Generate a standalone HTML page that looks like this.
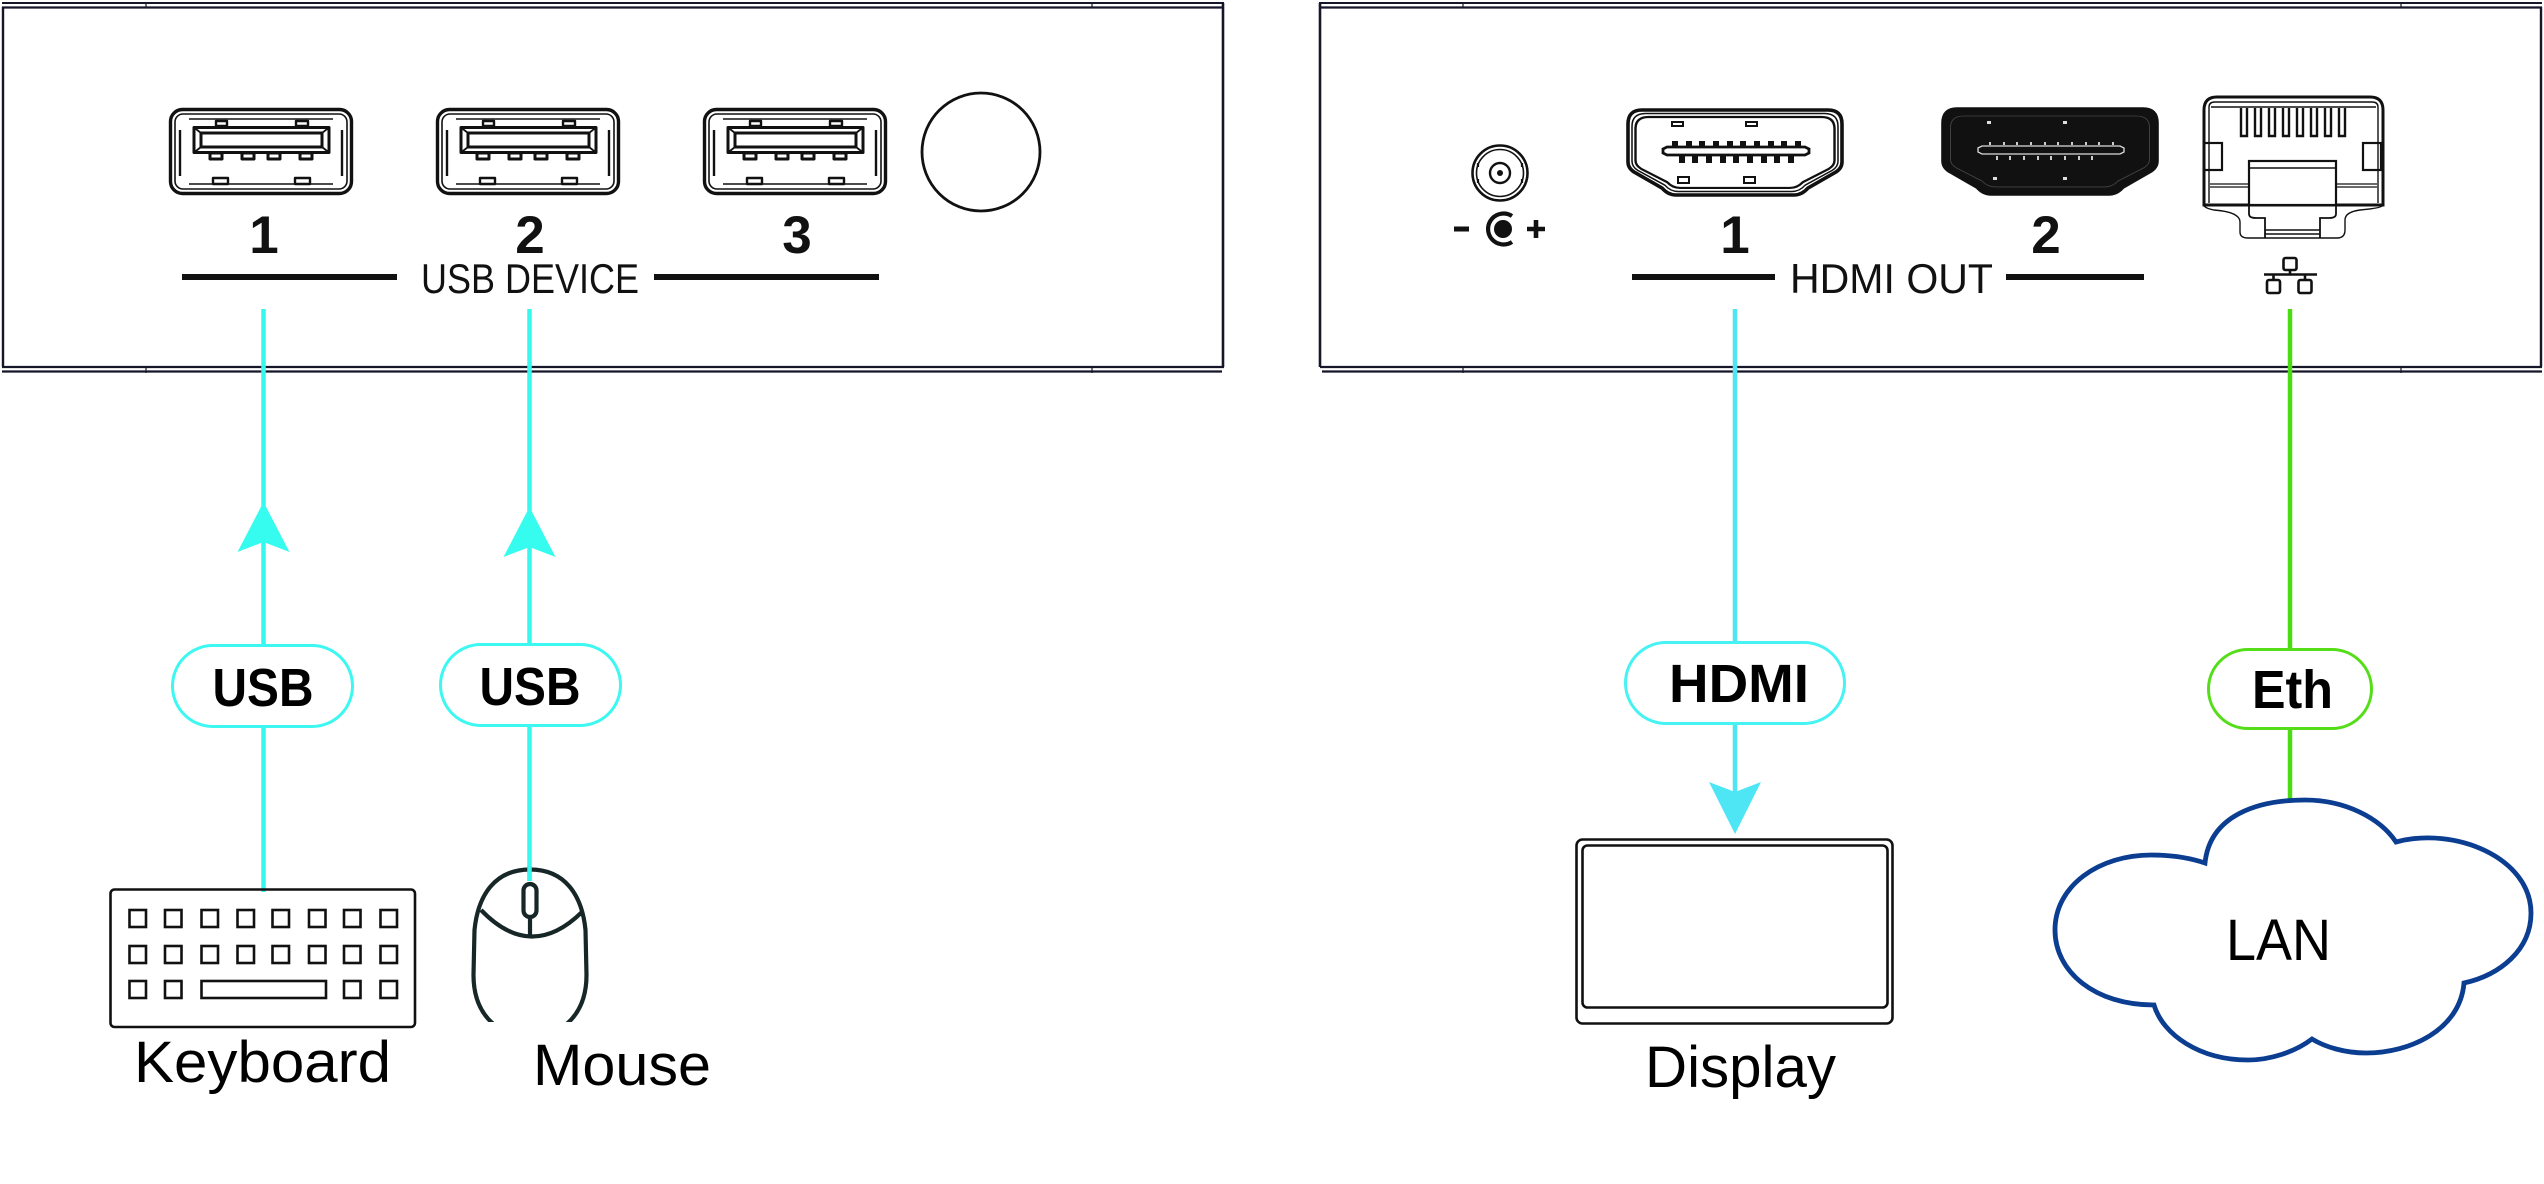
<!DOCTYPE html>
<html>
<head>
<meta charset="utf-8">
<style>
  html,body{margin:0;padding:0;background:#fff;}
  svg{display:block;}
  text{font-family:"Liberation Sans",sans-serif;}
</style>
</head>
<body>
<svg width="2544" height="1184" viewBox="0 0 2544 1184" xmlns="http://www.w3.org/2000/svg">
  <defs>
    <g id="usbport" fill="none" stroke="#111" stroke-linejoin="round">
      <rect x="1.5" y="1.5" width="181" height="84" rx="12" fill="#fff" stroke-width="3.4"/>
      <rect x="6" y="6" width="172" height="75" rx="8" stroke-width="1.6"/>
      <line x1="20" y1="11" x2="164" y2="11" stroke-width="1.6"/>
      <line x1="20" y1="76" x2="164" y2="76" stroke-width="1.6"/>
      <line x1="11" y1="22" x2="11" y2="68" stroke-width="2.4"/>
      <line x1="173" y1="22" x2="173" y2="68" stroke-width="2.4"/>
      <rect x="25" y="19.5" width="135" height="25" stroke-width="3"/>
      <rect x="32" y="25" width="121" height="14" stroke-width="3"/>
      <line x1="25" y1="19.5" x2="32" y2="25" stroke-width="1.8"/>
      <line x1="160" y1="19.5" x2="153" y2="25" stroke-width="1.8"/>
      <line x1="25" y1="44.5" x2="32" y2="39" stroke-width="1.8"/>
      <line x1="160" y1="44.5" x2="153" y2="39" stroke-width="1.8"/>
      <rect x="41" y="45" width="12" height="6" stroke-width="3"/>
      <rect x="73" y="45" width="12" height="6" stroke-width="3"/>
      <rect x="99" y="45" width="12" height="6" stroke-width="3"/>
      <rect x="131" y="45" width="12" height="6" stroke-width="3"/>
      <rect x="47" y="13" width="11" height="5" stroke-width="2.4"/>
      <rect x="127" y="13" width="12" height="5" stroke-width="2.4"/>
      <rect x="44" y="70" width="15" height="6" stroke-width="2.4"/>
      <rect x="126" y="70" width="15" height="6" stroke-width="2.4"/>
    </g>
    <path id="hdmishape" d="M14,0 H200 Q214,0 214,14 V52 Q214,58 208,62 L180,78 Q174,85 166,85 H48 Q40,85 34,78 L6,62 Q0,58 0,52 V14 Q0,0 14,0 Z"/>
  </defs>

  <!-- ============ LEFT PANEL ============ -->
  <g stroke="#16162a" fill="none">
    <line x1="2" y1="3" x2="1224" y2="3" stroke-width="2"/>
    <line x1="2" y1="7.5" x2="1224" y2="7.5" stroke-width="2.2"/>
    <line x1="3" y1="7" x2="3" y2="367" stroke-width="2.4"/>
    <line x1="1223" y1="3" x2="1223" y2="367" stroke-width="2.6"/>
    <line x1="2" y1="367" x2="1224" y2="367" stroke-width="2.2"/>
    <line x1="2" y1="371.5" x2="1222" y2="371.5" stroke-width="2.2"/>
    <line x1="146" y1="2" x2="146" y2="8" stroke-width="1.2"/>
    <line x1="1092" y1="2" x2="1092" y2="8" stroke-width="1.2"/>
    <line x1="146" y1="366" x2="146" y2="373" stroke-width="1.2"/>
    <line x1="1092" y1="366" x2="1092" y2="373" stroke-width="1.2"/>
  </g>

  <use href="#usbport" x="169" y="108"/>
  <use href="#usbport" x="436" y="108"/>
  <use href="#usbport" x="703" y="108"/>
  <circle cx="981" cy="152" r="59" fill="none" stroke="#111" stroke-width="2.8"/>

  <g fill="#111" font-weight="bold" font-size="53" text-anchor="middle">
    <text x="264" y="253">1</text>
    <text x="530" y="253">2</text>
    <text x="797" y="253">3</text>
  </g>
  <rect x="182" y="274" width="215" height="6" fill="#111"/>
  <rect x="654" y="274" width="225" height="6" fill="#111"/>
  <text x="421" y="293" font-size="42" fill="#111" textLength="218" lengthAdjust="spacingAndGlyphs">USB DEVICE</text>

  <!-- ============ RIGHT PANEL ============ -->
  <g stroke="#16162a" fill="none">
    <line x1="1319" y1="3" x2="2542" y2="3" stroke-width="2"/>
    <line x1="1319" y1="7.5" x2="2542" y2="7.5" stroke-width="2.2"/>
    <line x1="1320" y1="3" x2="1320" y2="367" stroke-width="2.6"/>
    <line x1="2541" y1="7" x2="2541" y2="367" stroke-width="2.4"/>
    <line x1="1320" y1="367" x2="2542" y2="367" stroke-width="2.2"/>
    <line x1="1322" y1="371.5" x2="2542" y2="371.5" stroke-width="2.2"/>
    <line x1="1463" y1="2" x2="1463" y2="8" stroke-width="1.2"/>
    <line x1="2401" y1="2" x2="2401" y2="8" stroke-width="1.2"/>
    <line x1="1463" y1="366" x2="1463" y2="373" stroke-width="1.2"/>
    <line x1="2401" y1="366" x2="2401" y2="373" stroke-width="1.2"/>
  </g>

  <!-- power jack -->
  <g fill="none" stroke="#111">
    <circle cx="1500" cy="173" r="27.5" stroke-width="2.6"/>
    <circle cx="1500" cy="173" r="23.5" stroke-width="1.6"/>
    <circle cx="1500" cy="173" r="10" stroke-width="2.4"/>
    <circle cx="1500" cy="173" r="3" fill="#111" stroke="none"/>
    <path d="M1478,163 v4 M1478,179 v4 M1522,163 v4 M1522,179 v4" stroke-width="2.2"/>
    <line x1="1454" y1="229" x2="1469" y2="229" stroke-width="5"/>
    <path d="M1512,216 A15.5,15.5 0 1 0 1512,242" stroke-width="4.2"/>
    <circle cx="1503" cy="229" r="9" fill="#111" stroke="none"/>
    <line x1="1527" y1="229" x2="1545" y2="229" stroke-width="4.6"/>
    <line x1="1536" y1="220" x2="1536" y2="238" stroke-width="4.6"/>
  </g>

  <!-- HDMI 1 -->
  <g transform="translate(1628,110)" fill="none" stroke="#111">
    <use href="#hdmishape" fill="#fff" stroke-width="3.6"/>
    <use href="#hdmishape" transform="translate(4,3.5) scale(0.9626,0.9176)" stroke-width="1.6"/>
    <use href="#hdmishape" transform="translate(7.5,7) scale(0.93,0.835)" stroke-width="2.6"/>
    <path d="M35,39 L39,37 H177 L181,39 V43 L177,45 H39 L35,43 Z" stroke-width="2.8"/>
    <g fill="#111" stroke="none">
      <rect x="44" y="31" width="6" height="6"/><rect x="58" y="31" width="6" height="6"/>
      <rect x="71" y="31" width="6" height="6"/><rect x="85" y="31" width="6" height="6"/>
      <rect x="99" y="31" width="6" height="6"/><rect x="112" y="31" width="6" height="6"/>
      <rect x="126" y="31" width="6" height="6"/><rect x="140" y="31" width="6" height="6"/>
      <rect x="153" y="31" width="6" height="6"/><rect x="167" y="31" width="6" height="6"/>
      <rect x="51" y="45" width="6" height="8"/><rect x="64" y="45" width="6" height="8"/>
      <rect x="78" y="45" width="6" height="8"/><rect x="92" y="45" width="6" height="8"/>
      <rect x="105" y="45" width="6" height="8"/><rect x="119" y="45" width="6" height="8"/>
      <rect x="133" y="45" width="6" height="8"/><rect x="146" y="45" width="6" height="8"/>
      <rect x="160" y="45" width="6" height="8"/>
    </g>
    <rect x="44" y="12" width="11" height="4" stroke-width="2"/>
    <rect x="118" y="12" width="11" height="4" stroke-width="2"/>
    <rect x="50" y="67" width="11" height="6" stroke-width="2"/>
    <rect x="116" y="67" width="11" height="6" stroke-width="2"/>
  </g>

  <!-- HDMI 2 (filled) -->
  <g transform="translate(1943,109)">
    <use href="#hdmishape" fill="#111" stroke="#111" stroke-width="3.6"/>
    <use href="#hdmishape" transform="translate(7.5,7) scale(0.93,0.835)" fill="none" stroke="#444" stroke-width="1"/>
    <path d="M35,39 L39,37 H177 L181,39 V43 L177,45 H39 L35,43 Z" fill="#111" stroke="#ddd" stroke-width="1.3"/>
    <g fill="#ccc">
      <rect x="46" y="33" width="2" height="3"/><rect x="60" y="33" width="2" height="3"/>
      <rect x="73" y="33" width="2" height="3"/><rect x="87" y="33" width="2" height="3"/>
      <rect x="101" y="33" width="2" height="3"/><rect x="114" y="33" width="2" height="3"/>
      <rect x="128" y="33" width="2" height="3"/><rect x="142" y="33" width="2" height="3"/>
      <rect x="155" y="33" width="2" height="3"/><rect x="169" y="33" width="2" height="3"/>
      <rect x="53" y="47" width="2" height="4"/><rect x="66" y="47" width="2" height="4"/>
      <rect x="80" y="47" width="2" height="4"/><rect x="94" y="47" width="2" height="4"/>
      <rect x="107" y="47" width="2" height="4"/><rect x="121" y="47" width="2" height="4"/>
      <rect x="135" y="47" width="2" height="4"/><rect x="148" y="47" width="2" height="4"/>
    </g>
    <rect x="44" y="12" width="4" height="3" fill="#ddd"/>
    <rect x="120" y="12" width="4" height="3" fill="#ddd"/>
    <rect x="50" y="68" width="4" height="3" fill="#ddd"/>
    <rect x="120" y="68" width="4" height="3" fill="#ddd"/>
  </g>

  <!-- RJ45 -->
  <g fill="none" stroke="#111">
    <path d="M2204,205 Q2204,208 2214,210 Q2240,212 2240,222 V232 Q2240,238 2248,238 H2337 Q2345,238 2345,230 V220 Q2345,212 2360,210 Q2383,208 2383,205" stroke-width="1.4"/>
    <path d="M2204,205 V110 Q2204,97 2217,97 H2370 Q2383,97 2383,110 V205 Z" fill="#fff" stroke-width="3"/>
    <path d="M2209,203 V107 Q2209,102 2215,102 H2372 Q2378,102 2378,107 V203" stroke-width="1.4"/>
    <line x1="2211" y1="107" x2="2376" y2="107" stroke-width="1.4"/>
    <g stroke-width="2.4" fill="#fff">
      <path d="M2241,108 V136 H2247 V108"/><path d="M2255,108 V136 H2261 V108"/>
      <path d="M2269,108 V136 H2275 V108"/><path d="M2283,108 V136 H2289 V108"/>
      <path d="M2297,108 V136 H2303 V108"/><path d="M2311,108 V136 H2317 V108"/>
      <path d="M2325,108 V136 H2331 V108"/><path d="M2339,108 V136 H2345 V108"/>
    </g>
    <rect x="2204" y="143" width="18" height="27" stroke-width="2.2"/>
    <rect x="2363" y="143" width="18" height="27" stroke-width="2.2"/>
    <rect x="2249" y="161" width="87" height="44" fill="#fff" stroke-width="2.2"/>
    <line x1="2249" y1="168" x2="2336" y2="168" stroke-width="1.6"/>
    <line x1="2210" y1="184" x2="2249" y2="184" stroke-width="1.3"/>
    <line x1="2210" y1="187" x2="2249" y2="187" stroke-width="1.3"/>
    <line x1="2336" y1="184" x2="2377" y2="184" stroke-width="1.3"/>
    <line x1="2336" y1="187" x2="2377" y2="187" stroke-width="1.3"/>
    <path d="M2249,205 V214 Q2249,218 2256,218 H2265 V238 M2336,205 V214 Q2336,218 2329,218 H2320 V238" stroke-width="1.8"/>
    <line x1="2265" y1="230" x2="2320" y2="230" stroke-width="1.4"/>
    <line x1="2265" y1="234" x2="2320" y2="234" stroke-width="1.4"/>
    <!-- network icon -->
    <rect x="2283.5" y="258" width="13" height="12" rx="2" stroke-width="2.6"/>
    <line x1="2290" y1="270" x2="2290" y2="274" stroke-width="2.6"/>
    <line x1="2264" y1="274.5" x2="2317" y2="274.5" stroke-width="2.6"/>
    <line x1="2273.5" y1="274" x2="2273.5" y2="280" stroke-width="2.6"/>
    <line x1="2305" y1="274" x2="2305" y2="280" stroke-width="2.6"/>
    <rect x="2267" y="280" width="13" height="13" rx="2" stroke-width="2.6"/>
    <rect x="2298.5" y="280" width="13" height="13" rx="2" stroke-width="2.6"/>
  </g>

  <g fill="#111" font-weight="bold" font-size="53" text-anchor="middle">
    <text x="1735" y="253">1</text>
    <text x="2046" y="253">2</text>
  </g>
  <rect x="1632" y="274" width="143" height="6" fill="#111"/>
  <rect x="2006" y="274" width="138" height="6" fill="#111"/>
  <text x="1790" y="293" font-size="42" fill="#111" textLength="203" lengthAdjust="spacingAndGlyphs">HDMI OUT</text>

  <!-- ============ CONNECTORS ============ -->
  <g stroke="#36f8ee" stroke-width="4.5">
    <line x1="263.5" y1="309" x2="263.5" y2="644"/>
    <line x1="263.5" y1="728" x2="263.5" y2="892"/>
    <line x1="529.5" y1="309" x2="529.5" y2="643"/>
    <line x1="529.5" y1="727" x2="529.5" y2="881"/>
  </g>
  <path d="M263.5,502 L289.5,552 L263.5,542 L237.5,552 Z" fill="#36fcf0"/>
  <path d="M529.5,507 L555.5,557 L529.5,547 L503.5,557 Z" fill="#36fcf0"/>
  <rect x="172.5" y="645.5" width="180" height="81" rx="40.5" fill="#fff" stroke="#3cf8f0" stroke-width="3"/>
  <rect x="440.5" y="644.5" width="180" height="81" rx="40.5" fill="#fff" stroke="#3cf8f0" stroke-width="3"/>
  <g font-weight="bold" font-size="54" fill="#000" text-anchor="middle">
    <text x="263" y="706" textLength="101" lengthAdjust="spacingAndGlyphs">USB</text>
    <text x="530" y="705" textLength="101" lengthAdjust="spacingAndGlyphs">USB</text>
  </g>

  <!-- HDMI connector -->
  <g stroke="#4ee6f4" stroke-width="4.5">
    <line x1="1735" y1="309" x2="1735" y2="641"/>
    <line x1="1735" y1="725" x2="1735" y2="793"/>
  </g>
  <path d="M1735,834 L1761,782 L1735,792 L1709,782 Z" fill="#4ee6f4"/>
  <rect x="1625.5" y="642.5" width="219" height="81" rx="40.5" fill="#fff" stroke="#46f2f2" stroke-width="3"/>
  <text x="1739" y="702" font-weight="bold" font-size="54" fill="#000" text-anchor="middle" textLength="140" lengthAdjust="spacingAndGlyphs">HDMI</text>

  <!-- Eth connector -->
  <g stroke="#4cdc14" stroke-width="4.5">
    <line x1="2290" y1="309" x2="2290" y2="648"/>
    <line x1="2290" y1="730" x2="2290" y2="802"/>
  </g>
  <rect x="2208.5" y="649.5" width="163" height="79" rx="39.5" fill="#fff" stroke="#55dd1a" stroke-width="3"/>
  <text x="2292.5" y="708" font-weight="bold" font-size="54" fill="#000" text-anchor="middle" textLength="81" lengthAdjust="spacingAndGlyphs">Eth</text>

  <!-- ============ DEVICES ============ -->
  <g fill="none" stroke="#111" stroke-width="2.6">
    <rect x="110.5" y="889.5" width="304.5" height="137.5" rx="4"/>
    <rect x="129.5" y="910" width="16.5" height="17"/><rect x="165" y="910" width="16.5" height="17"/>
    <rect x="201.5" y="910" width="16.5" height="17"/><rect x="237.5" y="910" width="16.5" height="17"/>
    <rect x="272.5" y="910" width="16.5" height="17"/><rect x="309" y="910" width="16.5" height="17"/>
    <rect x="344" y="910" width="16.5" height="17"/><rect x="380.5" y="910" width="16.5" height="17"/>
    <rect x="129.5" y="946" width="16.5" height="17"/><rect x="165" y="946" width="16.5" height="17"/>
    <rect x="201.5" y="946" width="16.5" height="17"/><rect x="237.5" y="946" width="16.5" height="17"/>
    <rect x="272.5" y="946" width="16.5" height="17"/><rect x="309" y="946" width="16.5" height="17"/>
    <rect x="344" y="946" width="16.5" height="17"/><rect x="380.5" y="946" width="16.5" height="17"/>
    <rect x="129.5" y="981" width="16.5" height="17"/><rect x="165" y="981" width="16.5" height="17"/>
    <rect x="201.5" y="981" width="124.5" height="17"/>
    <rect x="344" y="981" width="16.5" height="17"/><rect x="380.5" y="981" width="16.5" height="17"/>
  </g>
  <text x="262.5" y="1082" font-size="58" fill="#000" text-anchor="middle" textLength="257" lengthAdjust="spacingAndGlyphs">Keyboard</text>

  <!-- mouse -->
  <clipPath id="mclip"><rect x="440" y="850" width="180" height="172"/></clipPath>
  <g fill="none" stroke="#172626" stroke-width="4.2" clip-path="url(#mclip)">
    <path d="M530,869.5 C565,869.5 582,895 585.5,930 L586.5,975 C586.5,1012 565,1036 530,1036 C495,1036 473.5,1012 473.5,975 L474.5,930 C478,895 495,869.5 530,869.5 Z"/>
    <path d="M481,910 Q531,962 582,912"/>
    <rect x="523.5" y="884" width="13" height="33" rx="6.5"/>
    <line x1="530" y1="917" x2="530" y2="935"/>
  </g>
  <line x1="529.5" y1="866" x2="529.5" y2="881" stroke="#36f8ee" stroke-width="4.5"/>
  <text x="622" y="1085" font-size="58" fill="#000" text-anchor="middle" textLength="178" lengthAdjust="spacingAndGlyphs">Mouse</text>

  <!-- display -->
  <g fill="none" stroke="#111" stroke-width="2.6">
    <rect x="1576.5" y="839.5" width="316" height="184" rx="6"/>
    <rect x="1582.5" y="845.5" width="305" height="162" rx="5"/>
  </g>
  <text x="1740.5" y="1087" font-size="58" fill="#000" text-anchor="middle" textLength="191" lengthAdjust="spacingAndGlyphs">Display</text>

  <!-- cloud -->
  <path d="M2205,863 C2210,815 2258,800 2305,800 C2345,800 2380,818 2396,842 C2455,826 2531,858 2531,913 C2531,950 2500,975 2464,983 C2460,1030 2410,1053 2366,1053 C2345,1053 2325,1047 2312,1039 C2295,1052 2270,1060 2248,1060 C2200,1060 2163,1035 2154,1005 C2095,1005 2055,972 2055,930 C2055,885 2100,855 2151,855 C2172,855 2190,858 2205,863 Z" fill="#fff" stroke="#0b3d91" stroke-width="4.8"/>
  <text x="2278.5" y="960" font-size="58" fill="#000" text-anchor="middle" textLength="105" lengthAdjust="spacingAndGlyphs">LAN</text>
</svg>
</body>
</html>
